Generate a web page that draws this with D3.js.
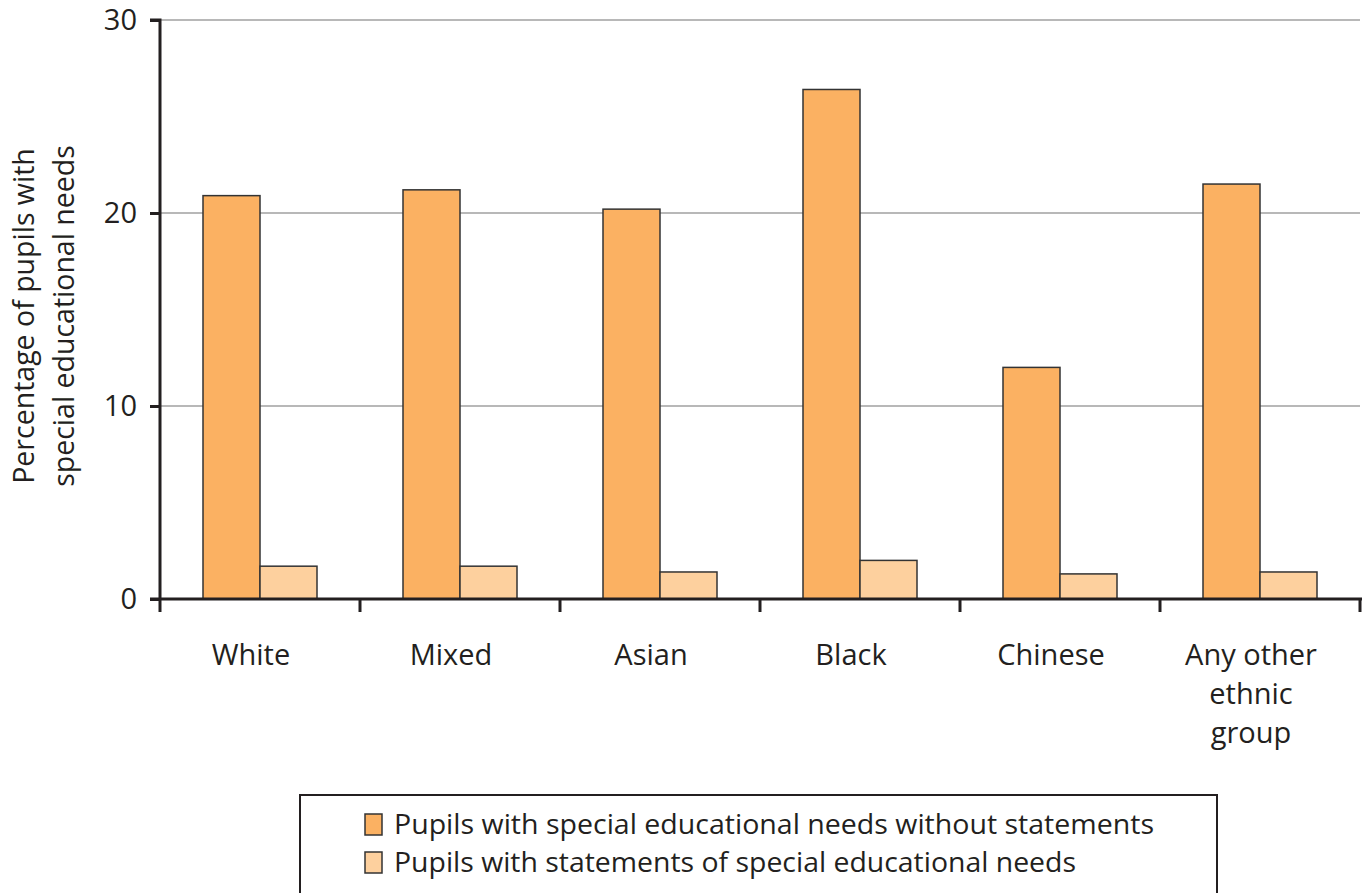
<!DOCTYPE html>
<html><head><meta charset="utf-8">
<script src="https://cdn.jsdelivr.net/npm/d3@7"></script>
<style>body{margin:0;background:#fff}svg{display:block}text{font-family:"Open Sans","Noto Sans",sans-serif;fill:#231f20}</style>
</head><body>
<svg id="c" width="1372" height="893"></svg>
<script>
const categories = [["White"],["Mixed"],["Asian"],["Black"],["Chinese"],["Any other","ethnic","group"]];
const withoutStatements = [20.9, 21.2, 20.2, 26.4, 12.0, 21.5];
const withStatements = [1.7, 1.7, 1.4, 2.0, 1.3, 1.4];
const seriesNames = ["Pupils with special educational needs without statements","Pupils with statements of special educational needs"];
const yTicks = [0,10,20,30];
const colors = ["#fbb162","#fdd09e"];

const svg = d3.select("#c");
const L=160, R=1360, T=20, B=599;
const keys = categories.map(c=>c.join(" "));
const x = d3.scaleBand().domain(keys).range([L,R]).paddingInner(0).paddingOuter(0);
const y = d3.scaleLinear().domain([0,30]).range([B,T]);

// gridlines
svg.append("g").selectAll("line").data(yTicks.filter(d=>d>0)).join("line")
  .attr("x1",L).attr("x2",R).attr("y1",d=>y(d)).attr("y2",d=>y(d))
  .attr("stroke","#a0a0a0").attr("stroke-width",1.5);

// bars
const groupW = x.bandwidth();
const barW = 57;
const off = (groupW - 2*barW)/2;
const series = [withoutStatements, withStatements];
series.forEach((vals,si)=>{
  svg.append("g").selectAll("rect").data(vals).join("rect")
    .attr("x",(d,i)=>x(keys[i])+off+si*barW)
    .attr("y",d=>y(d)).attr("width",barW).attr("height",d=>B-y(d))
    .attr("fill",colors[si]).attr("stroke","#333").attr("stroke-width",1.5);
});

// y axis
const ya = svg.append("g").attr("transform",`translate(${L},0)`)
  .call(d3.axisLeft(y).tickValues(yTicks).tickSize(10).tickPadding(13));
ya.select(".domain").attr("stroke","#231f20").attr("stroke-width",3).attr("d",`M-10,${T}H0V${B}`);
ya.selectAll(".tick line").attr("stroke","#231f20").attr("stroke-width",3);
ya.selectAll(".tick text").attr("font-size",29).attr("fill","#231f20").style("font-family",'"Open Sans",sans-serif');

// x axis
svg.append("line").attr("x1",L-10).attr("x2",R+2).attr("y1",B).attr("y2",B).attr("stroke","#231f20").attr("stroke-width",3);
const bounds = keys.map(k=>x(k)).concat([R]);
svg.append("g").selectAll("line").data(bounds).join("line")
  .attr("x1",d=>d).attr("x2",d=>d).attr("y1",B).attr("y2",B+13)
  .attr("stroke","#231f20").attr("stroke-width",3);

// category labels
const cl = svg.append("g").selectAll("text").data(categories).join("text")
  .attr("x",(d,i)=>x(keys[i])+groupW/2-9).attr("y",665).attr("text-anchor","middle").attr("font-size",29);
cl.selectAll("tspan").data(d=>d).join("tspan")
  .attr("x",function(){return this.parentNode.getAttribute("x");})
  .attr("dy",(d,i)=>i===0?0:39).text(d=>d);

// y title
const yt = svg.append("text").attr("transform","translate(0,316) rotate(-90)").attr("text-anchor","middle").attr("font-size",28.5);
yt.append("tspan").attr("x",0).attr("y",34).text("Percentage of pupils with");
yt.append("tspan").attr("x",0).attr("y",74).text("special educational needs");

// legend
svg.append("rect").attr("x",300).attr("y",795).attr("width",917).attr("height",120)
  .attr("fill","none").attr("stroke","#231f20").attr("stroke-width",2);
const lg = svg.append("g").selectAll("g").data(seriesNames).join("g")
  .attr("transform",(d,i)=>`translate(365,${830+i*38})`);
lg.append("rect").attr("x",0).attr("y",-16).attr("width",17).attr("height",21)
  .attr("fill",(d,i)=>colors[i]).attr("stroke","#333").attr("stroke-width",1.5);
lg.append("text").attr("x",29).attr("y",4).attr("font-size",27).attr("textLength",(d,i)=>i===0?760:682).attr("lengthAdjust","spacingAndGlyphs").text(d=>d);
</script>
</body></html>
